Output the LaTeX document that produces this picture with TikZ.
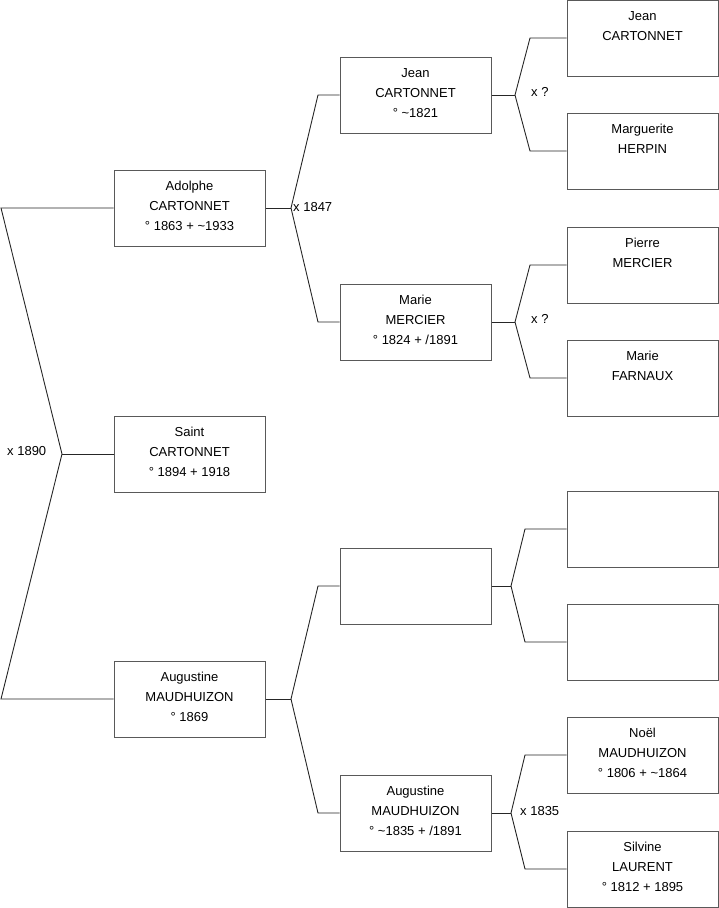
\documentclass[tikz,border=0pt]{standalone}
\usepackage{fontspec}
\setmainfont{Liberation Sans}
\newcommand{\cardtext}[1]{\parbox[c][76pt][t]{151pt}{\centering\fontsize{13}{20}\selectfont\rule{0pt}{20.5pt}#1}}
\begin{document}
\begin{tikzpicture}[x=1pt,y=-1pt,
  card/.style={draw=black!65,line width=1pt,fill=white,inner sep=0pt,minimum width=151pt,minimum height=76pt},
  link/.style={draw=black!85,line width=0.9pt},
  mlabel/.style={anchor=west,inner sep=0pt,font=\fontsize{13}{15}\selectfont}]
\useasboundingbox (0,0) rectangle (719,908);
% generation 1
\node[card] (adolphe) at (189.5,208) {\cardtext{Adolphe\\CARTONNET\\° 1863 + \textasciitilde1933}};
\node[card] (saint) at (189.5,454) {\cardtext{Saint\\CARTONNET\\° 1894 + 1918}};
\node[card] (augustine) at (189.5,699) {\cardtext{Augustine\\MAUDHUIZON\\° 1869}};
% generation 2
\node[card] (jean) at (415.5,95) {\cardtext{Jean\\CARTONNET\\° \textasciitilde1821}};
\node[card] (marie) at (415.5,322) {\cardtext{Marie\\MERCIER\\° 1824 + /1891}};
\node[card] (empty) at (415.5,586) {};
\node[card] (augustineb) at (415.5,813) {\cardtext{Augustine\\MAUDHUIZON\\° \textasciitilde1835 + /1891}};
% generation 3
\node[card] (jeanb) at (642.5,38) {\cardtext{Jean\\CARTONNET}};
\node[card] (marguerite) at (642.5,151) {\cardtext{Marguerite\\HERPIN}};
\node[card] (pierre) at (642.5,265) {\cardtext{Pierre\\MERCIER}};
\node[card] (marieb) at (642.5,378) {\cardtext{Marie\\FARNAUX}};
\node[card] (emptya) at (642.5,529) {};
\node[card] (emptyb) at (642.5,642) {};
\node[card] (noel) at (642.5,755) {\cardtext{Noël\\MAUDHUIZON\\° 1806 + \textasciitilde1864}};
\node[card] (silvine) at (642.5,869) {\cardtext{Silvine\\LAURENT\\° 1812 + 1895}};
% fork 0
\coordinate (t0) at (1,208);
\coordinate (f0) at (62,454);
\coordinate (b0) at (1,699);
\draw[link] (adolphe.west) -- (t0) -- (f0) -- (b0) -- (augustine.west);
\draw[link] (f0) -- (saint.west);
\node[mlabel] (l0) at (7,451) {x 1890};
% fork 1
\coordinate (f1) at (291,208);
\draw[link] (adolphe.east) -- (f1);
\draw[link] (f1) -- (318,95) -- (jean.west);
\draw[link] (f1) -- (318,322) -- (marie.west);
\node[mlabel] (l1) at (293,207) {x 1847};
% fork 2 (augustine)
\coordinate (f2) at (291,699);
\draw[link] (augustine.east) -- (f2);
\draw[link] (f2) -- (318,586) -- (empty.west);
\draw[link] (f2) -- (318,813) -- (augustineb.west);
% forks gen 2
\coordinate (f3) at (515,95);
\draw[link] (jean.east) -- (f3);
\draw[link] (f3) -- (530,38) -- (jeanb.west);
\draw[link] (f3) -- (530,151) -- (marguerite.west);
\node[mlabel] (l3) at (531,92) {x ?};
\coordinate (f4) at (515,322);
\draw[link] (marie.east) -- (f4);
\draw[link] (f4) -- (530,265) -- (pierre.west);
\draw[link] (f4) -- (530,378) -- (marieb.west);
\node[mlabel] (l4) at (531,319) {x ?};
\coordinate (f5) at (511,586);
\draw[link] (empty.east) -- (f5);
\draw[link] (f5) -- (525,529) -- (emptya.west);
\draw[link] (f5) -- (525,642) -- (emptyb.west);
\coordinate (f6) at (511,813);
\draw[link] (augustineb.east) -- (f6);
\draw[link] (f6) -- (525,755) -- (noel.west);
\draw[link] (f6) -- (525,869) -- (silvine.west);
\node[mlabel] (l6) at (520,811) {x 1835};
\end{tikzpicture}
\end{document}
